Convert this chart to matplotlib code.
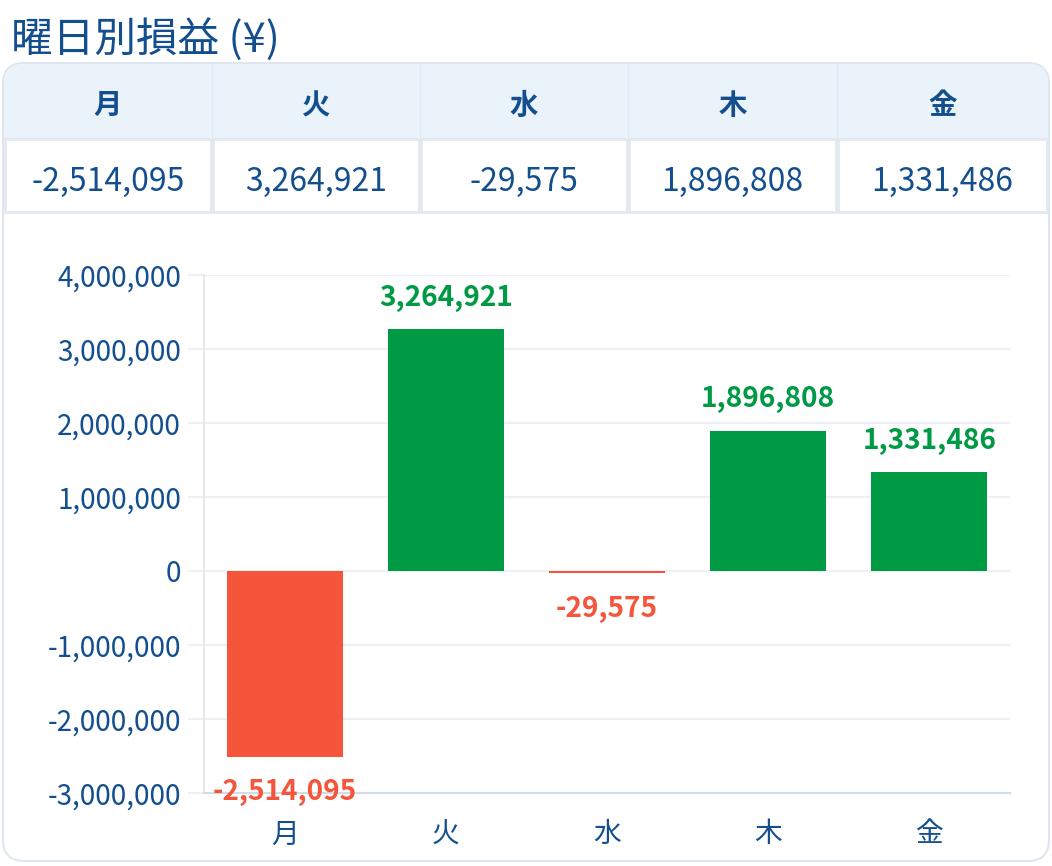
import matplotlib
matplotlib.use("Agg")
import matplotlib.pyplot as plt
from matplotlib.patches import FancyBboxPatch, Rectangle
from matplotlib.ticker import FuncFormatter

plt.rcParams['font.family'] = ['Noto Sans CJK JP', 'DejaVu Sans']

title = "曜日別損益 (¥)"
days = ["月", "火", "水", "木", "金"]
pnl = [-2514095, 3264921, -29575, 1896808, 1331486]
y_ticks = [-3000000, -2000000, -1000000, 0, 1000000, 2000000, 3000000, 4000000]

W, H = 1052, 866
BLUE = "#134e8e"
GREEN = "#009944"
RED = "#f5553b"
GRID = "#edf1f6"

fig = plt.figure(figsize=(W / 100, H / 100), dpi=100)

def fx(px):
    return px / W

def fy(py):
    return 1 - py / H

# Title
fig.text(fx(11), fy(39), title, fontsize=30, color=BLUE, va="center", ha="left")

# Card
card = FancyBboxPatch((fx(3), fy(861)), fx(1046), (861 - 63) / H,
                      boxstyle="round,pad=0,rounding_size=0.02",
                      transform=fig.transFigure, facecolor="white",
                      edgecolor="#dfe6ef", linewidth=1.5, zorder=0,
                      mutation_aspect=W / H)
fig.patches.append(card)

# Header row background (rounded top)
hdr = FancyBboxPatch((fx(4), fy(138)), fx(1044), (138 - 64) / H,
                     boxstyle="round,pad=0,rounding_size=0.02",
                     transform=fig.transFigure, facecolor="#eaf2fa",
                     edgecolor="none", zorder=1, mutation_aspect=W / H)
fig.patches.append(hdr)
fig.patches.append(Rectangle((fx(4), fy(138)), fx(1044), 40 / H,
                             transform=fig.transFigure, facecolor="#eaf2fa",
                             edgecolor="none", zorder=1))

col_edges = [4, 212, 420, 628, 837, 1048]
for i, (d, v) in enumerate(zip(days, pnl)):
    x0, x1 = col_edges[i], col_edges[i + 1]
    cx = (x0 + x1) / 2
    fig.text(fx(cx), fy(106), d, fontsize=20.5, fontweight="bold", color=BLUE,
             ha="center", va="center", zorder=3)
    fig.patches.append(Rectangle((fx(x0 + 1), fy(212)), fx(x1 - x0 - 2), (212 - 139) / H,
                                 transform=fig.transFigure, facecolor="white",
                                 edgecolor="#e2e9f1", linewidth=2, zorder=2))
    fig.text(fx(cx), fy(182), f"{v:,}", fontsize=23, color=BLUE,
             ha="center", va="center", zorder=3)
    if i > 0:
        fig.add_artist(plt.Line2D([fx(x0), fx(x0)], [fy(64), fy(138)],
                                  transform=fig.transFigure, color="#e1eaf4",
                                  linewidth=1, zorder=2))
fig.add_artist(plt.Line2D([fx(4), fx(1048)], [fy(138.5), fy(138.5)],
                          transform=fig.transFigure, color="#dde6f0",
                          linewidth=2, zorder=2))

# Chart
ax = fig.add_axes([fx(204), fy(793), fx(1010 - 204), (793 - 275) / H])
ax.set_zorder(3)
ax.patch.set_alpha(0)
x = list(range(len(days)))
colors = [GREEN if v >= 0 else RED for v in pnl]
ax.bar(x, pnl, width=0.72, color=colors, zorder=3)
ax.set_xlim(-0.5, len(days) - 0.5)
ax.set_ylim(y_ticks[0], y_ticks[-1])
ax.set_yticks(y_ticks)
ax.yaxis.set_major_formatter(FuncFormatter(lambda v, p: f"{int(v):,}"))
ax.set_xticks(x)
ax.set_xticklabels(days)
ax.grid(axis="y", color=GRID, linewidth=1.5, zorder=0)
ax.tick_params(axis="y", length=11.5, width=1.5, color=GRID, pad=5,
               labelsize=20, labelcolor=BLUE)
ax.tick_params(axis="x", length=0, pad=19, labelsize=20, labelcolor=BLUE)
for s in ["top", "right"]:
    ax.spines[s].set_visible(False)
ax.spines["left"].set_color("#e9e3e1")
ax.spines["left"].set_linewidth(1.2)
ax.spines["bottom"].set_color("#d3dbe5")
ax.spines["bottom"].set_linewidth(1.5)

for xi, v, c in zip(x, pnl, colors):
    off = 22.5 if v >= 0 else -25.5
    ax.annotate(f"{v:,}", (xi, v), xytext=(0, off), textcoords="offset points",
                ha="center", va="center", fontsize=20.2, fontweight="bold",
                color=c, zorder=5, annotation_clip=False)

fig.savefig("out.png", dpi=100)
